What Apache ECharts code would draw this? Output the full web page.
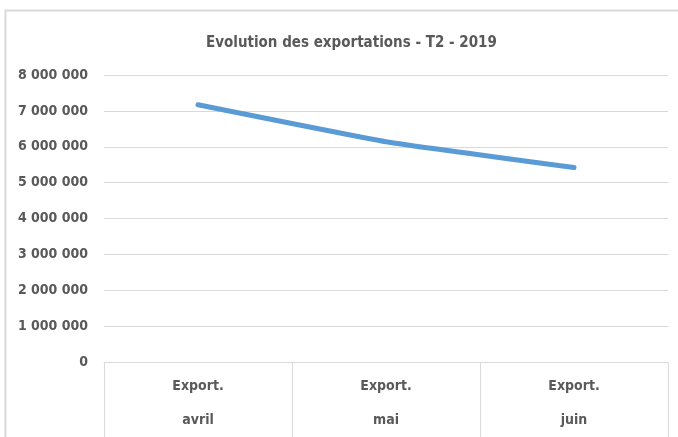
<!DOCTYPE html>
<html>
<head>
<meta charset="utf-8">
<script src="https://cdn.jsdelivr.net/npm/echarts@6/dist/echarts.min.js"></script>
<style>
  html, body { margin: 0; padding: 0; background: #fff; }
  #chart { width: 678px; height: 437px; }
</style>
</head>
<body>
<div id="chart"></div>
<script>
var months = ["avril", "mai", "juin"];
var categories = months.map(function (m) { return "Export.\n" + m; });
var exportValues = [7170000, 6140000, 5420000];
var yTicks = { min: 0, max: 8000000, interval: 1000000 };

var font = "'Liberation Sans Narrow', 'DejaVu Sans Condensed', 'Open Sans', sans-serif";
var textColor = "#595959";
var gridColor = "#d9d9d9";

var myChart = echarts.init(document.getElementById("chart"));

function spaced(v) {
  return String(v).replace(/\B(?=(\d{3})+(?!\d))/g, " ");
}

var option = {
  backgroundColor: "#fff",
  animation: false,
  graphic: [
    {
      type: "rect",
      shape: { x: 5.5, y: 10.5, width: 800, height: 600 },
      style: { fill: "none", stroke: gridColor, lineWidth: 2 },
      silent: true
    }
  ],
  title: {
    text: "Evolution des exportations - T2 - 2019",
    left: 201,
    top: 31,
    textStyle: {
      fontFamily: font,
      fontSize: 15,
      fontWeight: "bold",
      color: textColor
    }
  },
  grid: {
    left: 104,
    right: 10,
    top: 75,
    bottom: 74
  },
  xAxis: {
    type: "category",
    data: categories,
    boundaryGap: true,
    axisLine: { lineStyle: { color: gridColor, width: 1 } },
    axisTick: {
      show: true,
      alignWithLabel: false,
      length: 80,
      lineStyle: { color: gridColor }
    },
    axisLabel: {
      margin: 7,
      fontFamily: font,
      fontSize: 14,
      fontWeight: "bold",
      color: textColor,
      lineHeight: 34,
      verticalAlign: "top"
    }
  },
  yAxis: {
    type: "value",
    min: yTicks.min,
    max: yTicks.max,
    interval: yTicks.interval,
    axisLine: { show: false },
    axisTick: { show: false },
    splitLine: { lineStyle: { color: gridColor, width: 1 } },
    axisLabel: {
      margin: 16,
      fontFamily: font,
      fontSize: 14,
      fontWeight: "bold",
      color: textColor,
      formatter: function (v) { return spaced(v); }
    }
  },
  series: [
    {
      name: "Export.",
      type: "line",
      data: exportValues,
      smooth: 0.12,
      showSymbol: false,
      lineStyle: { color: "#5b9bd5", width: 5, cap: "round" }
    }
  ]
};

myChart.setOption(option);
</script>
</body>
</html>
